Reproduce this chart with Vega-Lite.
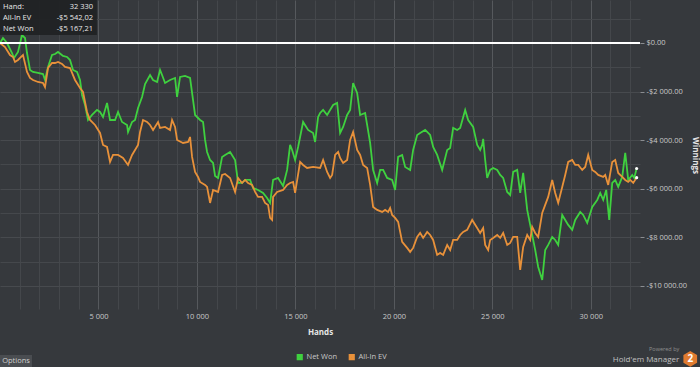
{
  "$schema": "https://vega.github.io/schema/vega-lite/v6.json",
  "width": 640,
  "height": 309,
  "autosize": {"type": "none"},
  "padding": {"left": 0, "top": 0, "right": 60, "bottom": 58},
  "background": "#36393d",
  "config": {"view": {"stroke": null}, "font": "Open Sans"},
  "resolve": {"axis": {"x": "independent", "y": "independent"}},
  "datasets": {
    "net": [
      {"h":1,"v":0},{"h":152,"v":206},{"h":356,"v":0},{"h":406,"v":-82},{"h":610,"v":-412},{"h":711,"v":-617},{"h":914,"v":-370},{"h":1118,"v":329},{"h":1270,"v":206},{"h":1372,"v":-412},{"h":1524,"v":-1111},{"h":1676,"v":-1193},{"h":1930,"v":-1234},{"h":2184,"v":-1276},{"h":2286,"v":-1522},{"h":2438,"v":-988},{"h":2642,"v":-494},{"h":2794,"v":-453},{"h":2946,"v":-370},{"h":3200,"v":-535},{"h":3404,"v":-576},{"h":3556,"v":-700},{"h":3708,"v":-1111},{"h":3912,"v":-1193},{"h":4064,"v":-1522},{"h":4166,"v":-2140},{"h":4318,"v":-2551},{"h":4470,"v":-3169},{"h":4674,"v":-2963},{"h":4928,"v":-2757},{"h":5080,"v":-2839},{"h":5232,"v":-3045},{"h":5436,"v":-2469},{"h":5588,"v":-3169},{"h":5842,"v":-3169},{"h":5994,"v":-2839},{"h":6198,"v":-3251},{"h":6452,"v":-3374},{"h":6502,"v":-3662},{"h":6706,"v":-3251},{"h":6858,"v":-3169},{"h":7010,"v":-2675},{"h":7214,"v":-2222},{"h":7366,"v":-1687},{"h":7620,"v":-1317},{"h":7772,"v":-1522},{"h":7976,"v":-1605},{"h":8128,"v":-1111},{"h":8230,"v":-1317},{"h":8382,"v":-1646},{"h":8636,"v":-1522},{"h":8890,"v":-1440},{"h":8992,"v":-2222},{"h":9144,"v":-1399},{"h":9398,"v":-1358},{"h":9652,"v":-1440},{"h":9754,"v":-2058},{"h":9906,"v":-2963},{"h":10160,"v":-3169},{"h":10312,"v":-3251},{"h":10414,"v":-3992},{"h":10516,"v":-4485},{"h":10668,"v":-4815},{"h":10820,"v":-4938},{"h":10922,"v":-5473},{"h":11074,"v":-5555},{"h":11278,"v":-4691},{"h":11430,"v":-4609},{"h":11684,"v":-4485},{"h":11938,"v":-4815},{"h":12090,"v":-5761},{"h":12294,"v":-5761},{"h":12446,"v":-5638},{"h":12700,"v":-5638},{"h":12852,"v":-5967},{"h":13106,"v":-6049},{"h":13360,"v":-6173},{"h":13564,"v":-6378},{"h":13716,"v":-6584},{"h":13868,"v":-5638},{"h":14122,"v":-5555},{"h":14376,"v":-5884},{"h":14580,"v":-5226},{"h":14732,"v":-4197},{"h":14834,"v":-4403},{"h":14986,"v":-4815},{"h":15138,"v":-4280},{"h":15392,"v":-3251},{"h":15646,"v":-3580},{"h":15900,"v":-3704},{"h":16002,"v":-4074},{"h":16154,"v":-3045},{"h":16256,"v":-2881},{"h":16408,"v":-2757},{"h":16612,"v":-2963},{"h":16916,"v":-2551},{"h":17120,"v":-2469},{"h":17272,"v":-3704},{"h":17424,"v":-3457},{"h":17628,"v":-2963},{"h":17780,"v":-2757},{"h":17932,"v":-1646},{"h":18136,"v":-2058},{"h":18288,"v":-2963},{"h":18542,"v":-2881},{"h":18644,"v":-3374},{"h":18796,"v":-4115},{"h":18948,"v":-5226},{"h":19152,"v":-5761},{"h":19304,"v":-5226},{"h":19456,"v":-5226},{"h":19660,"v":-5555},{"h":19914,"v":-5638},{"h":20066,"v":-6049},{"h":20218,"v":-4691},{"h":20422,"v":-4609},{"h":20574,"v":-5103},{"h":20828,"v":-5226},{"h":20980,"v":-4403},{"h":21184,"v":-3786},{"h":21336,"v":-3704},{"h":21590,"v":-3580},{"h":21844,"v":-3786},{"h":21996,"v":-4280},{"h":22200,"v":-4609},{"h":22454,"v":-5226},{"h":22708,"v":-4403},{"h":22860,"v":-4321},{"h":23012,"v":-3498},{"h":23216,"v":-3580},{"h":23368,"v":-3498},{"h":23622,"v":-2757},{"h":23774,"v":-3169},{"h":24028,"v":-3457},{"h":24232,"v":-4197},{"h":24384,"v":-4403},{"h":24486,"v":-4197},{"h":24536,"v":-3950},{"h":24638,"v":-4815},{"h":24740,"v":-5555},{"h":24892,"v":-5226},{"h":25044,"v":-5144},{"h":25248,"v":-5226},{"h":25400,"v":-5432},{"h":25552,"v":-5555},{"h":25756,"v":-6131},{"h":25908,"v":-6255},{"h":26060,"v":-5308},{"h":26264,"v":-5226},{"h":26416,"v":-6173},{"h":26568,"v":-5350},{"h":26772,"v":-6872},{"h":26924,"v":-7489},{"h":27026,"v":-7901},{"h":27178,"v":-8518},{"h":27330,"v":-9218},{"h":27534,"v":-9753},{"h":27686,"v":-8518},{"h":27838,"v":-8312},{"h":28042,"v":-7983},{"h":28194,"v":-8107},{"h":28346,"v":-8312},{"h":28550,"v":-7078},{"h":28702,"v":-7284},{"h":28854,"v":-7489},{"h":29058,"v":-7695},{"h":29210,"v":-7284},{"h":29464,"v":-6954},{"h":29616,"v":-7078},{"h":29820,"v":-7407},{"h":30074,"v":-6749},{"h":30328,"v":-6461},{"h":30480,"v":-6173},{"h":30632,"v":-6461},{"h":30785,"v":-6049},{"h":30937,"v":-7284},{"h":31090,"v":-5761},{"h":31242,"v":-5638},{"h":31394,"v":-5926},{"h":31598,"v":-5514},{"h":31750,"v":-4526},{"h":31902,"v":-5638},{"h":32106,"v":-5432},{"h":32207,"v":-5555},{"h":32330,"v":-5167}
    ],
    "ev": [
      {"h":1,"v":0},{"h":254,"v":-165},{"h":508,"v":-494},{"h":660,"v":-576},{"h":762,"v":-782},{"h":914,"v":-700},{"h":1016,"v":-617},{"h":1168,"v":-494},{"h":1372,"v":-1193},{"h":1524,"v":-1440},{"h":1676,"v":-1522},{"h":1930,"v":-1605},{"h":2184,"v":-1646},{"h":2286,"v":-1811},{"h":2438,"v":-1029},{"h":2642,"v":-823},{"h":2794,"v":-823},{"h":2946,"v":-782},{"h":3150,"v":-864},{"h":3302,"v":-988},{"h":3556,"v":-1029},{"h":3810,"v":-1522},{"h":4064,"v":-1852},{"h":4216,"v":-2016},{"h":4420,"v":-2839},{"h":4572,"v":-3169},{"h":4826,"v":-3374},{"h":5080,"v":-3704},{"h":5232,"v":-4197},{"h":5436,"v":-4280},{"h":5588,"v":-4897},{"h":5740,"v":-4609},{"h":5994,"v":-4609},{"h":6248,"v":-4732},{"h":6502,"v":-5020},{"h":6706,"v":-4609},{"h":6858,"v":-4403},{"h":7010,"v":-4197},{"h":7112,"v":-3662},{"h":7264,"v":-3169},{"h":7468,"v":-3251},{"h":7620,"v":-3374},{"h":7772,"v":-3580},{"h":8026,"v":-3251},{"h":8128,"v":-3498},{"h":8382,"v":-3457},{"h":8636,"v":-3580},{"h":8738,"v":-3169},{"h":8890,"v":-3457},{"h":8992,"v":-3992},{"h":9296,"v":-4115},{"h":9550,"v":-4074},{"h":9652,"v":-3868},{"h":9754,"v":-4691},{"h":9906,"v":-5308},{"h":10058,"v":-5514},{"h":10160,"v":-5720},{"h":10414,"v":-5843},{"h":10516,"v":-5926},{"h":10668,"v":-6584},{"h":10820,"v":-6049},{"h":11074,"v":-6131},{"h":11278,"v":-5432},{"h":11430,"v":-5391},{"h":11684,"v":-5555},{"h":11938,"v":-6131},{"h":12090,"v":-5555},{"h":12294,"v":-5761},{"h":12446,"v":-5638},{"h":12598,"v":-5761},{"h":12802,"v":-5843},{"h":12954,"v":-6131},{"h":13106,"v":-6337},{"h":13310,"v":-6337},{"h":13462,"v":-6584},{"h":13614,"v":-6666},{"h":13716,"v":-7201},{"h":13818,"v":-7284},{"h":13868,"v":-6337},{"h":14072,"v":-6131},{"h":14376,"v":-6049},{"h":14580,"v":-5843},{"h":14732,"v":-5761},{"h":14884,"v":-5720},{"h":14986,"v":-6173},{"h":15240,"v":-4897},{"h":15392,"v":-5020},{"h":15596,"v":-5144},{"h":15900,"v":-5103},{"h":16256,"v":-5144},{"h":16408,"v":-4815},{"h":16612,"v":-5308},{"h":16764,"v":-5555},{"h":16866,"v":-5432},{"h":17018,"v":-4609},{"h":17170,"v":-4485},{"h":17272,"v":-4732},{"h":17424,"v":-4938},{"h":17628,"v":-4815},{"h":17780,"v":-3992},{"h":17932,"v":-3662},{"h":18136,"v":-4403},{"h":18288,"v":-4609},{"h":18440,"v":-5020},{"h":18644,"v":-5144},{"h":18796,"v":-5843},{"h":18948,"v":-6749},{"h":19152,"v":-6872},{"h":19406,"v":-6954},{"h":19558,"v":-6872},{"h":19710,"v":-6954},{"h":19812,"v":-6790},{"h":19914,"v":-7078},{"h":20066,"v":-7201},{"h":20218,"v":-7366},{"h":20422,"v":-8189},{"h":20676,"v":-8436},{"h":20828,"v":-8600},{"h":20980,"v":-8436},{"h":21184,"v":-7983},{"h":21336,"v":-7819},{"h":21488,"v":-8024},{"h":21692,"v":-7777},{"h":21844,"v":-7901},{"h":21996,"v":-8107},{"h":22200,"v":-8724},{"h":22352,"v":-8642},{"h":22504,"v":-8724},{"h":22708,"v":-8312},{"h":22860,"v":-8518},{"h":23012,"v":-8107},{"h":23216,"v":-8107},{"h":23368,"v":-7901},{"h":23520,"v":-7777},{"h":23724,"v":-7695},{"h":23978,"v":-7284},{"h":24232,"v":-7613},{"h":24384,"v":-7819},{"h":24536,"v":-7613},{"h":24638,"v":-8312},{"h":24790,"v":-8518},{"h":24892,"v":-8107},{"h":25044,"v":-8024},{"h":25248,"v":-7901},{"h":25400,"v":-8024},{"h":25552,"v":-7819},{"h":25756,"v":-8312},{"h":25908,"v":-8230},{"h":26060,"v":-7983},{"h":26264,"v":-7983},{"h":26416,"v":-9341},{"h":26568,"v":-8395},{"h":26772,"v":-7901},{"h":26924,"v":-8107},{"h":27026,"v":-7572},{"h":27178,"v":-7819},{"h":27330,"v":-7983},{"h":27534,"v":-6996},{"h":27686,"v":-6666},{"h":27838,"v":-6337},{"h":28042,"v":-5638},{"h":28194,"v":-6173},{"h":28346,"v":-6584},{"h":28550,"v":-5926},{"h":28702,"v":-5432},{"h":28854,"v":-4897},{"h":29058,"v":-4815},{"h":29210,"v":-5020},{"h":29362,"v":-5020},{"h":29566,"v":-5226},{"h":29718,"v":-5103},{"h":29870,"v":-4609},{"h":30074,"v":-5226},{"h":30226,"v":-5308},{"h":30378,"v":-5432},{"h":30632,"v":-5514},{"h":30734,"v":-5432},{"h":30886,"v":-5843},{"h":31090,"v":-4897},{"h":31242,"v":-4815},{"h":31394,"v":-5350},{"h":31598,"v":-5514},{"h":31750,"v":-5638},{"h":31902,"v":-5720},{"h":32004,"v":-5638},{"h":32156,"v":-5761},{"h":32330,"v":-5542}
    ]
  },
  "layer": [
    {
      "data": {"name": "net"},
      "mark": {"type": "line", "strokeWidth": 1.8},
      "encoding": {
        "x": {
          "field": "h", "type": "quantitative",
          "scale": {"domain": [0, 32500], "nice": false, "zero": false},
          "axis": {
            "orient": "bottom",
            "values": [5000, 10000, 15000, 20000, 25000, 30000],
            "title": "Hands", "grid": true, "gridColor": "#56595d",
            "ticks": false, "domain": false, "labelOverlap": false, "labelFlush": false,
            "labelExpr": "replace(format(datum.value, ','), ',', ' ')",
            "labelColor": "#c8c8c8", "labelFontSize": 7.5, "labelPadding": 3,
            "titleColor": "#e6e6e6", "titleFontSize": 8, "titleFontWeight": "bold", "titlePadding": 9
          }
        },
        "y": {
          "field": "v", "type": "quantitative",
          "scale": {"domain": [-10950, 1770], "nice": false, "zero": false},
          "axis": {
            "orient": "right",
            "values": [-10000, -8000, -6000, -4000, -2000, 0],
            "title": "Winnings", "grid": true, "gridColor": "#474a4e",
            "ticks": true, "tickSize": 4, "tickColor": "#8a8d91",
            "domain": false, "labelOverlap": false, "labelFlush": false,
            "labelExpr": "(datum.value < 0 ? '-' : '') + '$' + replace(format(abs(datum.value), ','), ',', ' ') + '.00'",
            "labelColor": "#c8c8c8", "labelFontSize": 7.5, "labelPadding": 2,
            "titleColor": "#e6e6e6", "titleFontSize": 8, "titleFontWeight": "bold",
            "titleX": 54, "titleY": 155, "titleAngle": 90, "titleAlign": "center", "titleBaseline": "middle"
          }
        },
        "color": {
          "datum": "Net Won", "type": "nominal",
          "scale": {"domain": ["Net Won", "All-In EV"], "range": ["#3fd13f", "#e8913a"]},
          "legend": {
            "orient": "none", "legendX": 296, "legendY": 353, "direction": "horizontal",
            "title": null, "symbolType": "square", "symbolSize": 10, "symbolStrokeWidth": 3,
            "labelColor": "#c8c8c8", "labelFontSize": 7.5, "labelOffset": 3, "columnPadding": 6
          }
        }
      }
    },
    {
      "data": {"name": "ev"},
      "mark": {"type": "line", "strokeWidth": 1.8},
      "encoding": {
        "x": {"field": "h", "type": "quantitative",
          "axis": {"orient": "top", "values": [1000,2000,3000,4000,6000,7000,8000,9000,11000,12000,13000,14000,16000,17000,18000,19000,21000,22000,23000,24000,26000,27000,28000,29000,31000,32000],
            "grid": true, "gridColor": "#44474b", "labels": false, "ticks": false, "domain": false, "title": null}},
        "y": {"field": "v", "type": "quantitative",
          "axis": {"orient": "left", "values": [-9000, -7000, -5000, -3000, -1000, 1000],
            "grid": true, "gridColor": "#45484c", "labels": false, "ticks": false, "domain": false, "title": null}},
        "color": {"datum": "All-In EV", "type": "nominal"}
      }
    },
    {
      "data": {"values": [{}]},
      "mark": {"type": "rule", "color": "#ffffff", "strokeWidth": 2},
      "encoding": {"y": {"datum": 0, "axis": null}}
    },
    {
      "data": {"name": "net"},
      "transform": [{"filter": "datum.h == 32330"}],
      "mark": {"type": "point", "filled": true, "color": "#ffffff", "size": 10, "opacity": 1},
      "encoding": {"x": {"field": "h", "type": "quantitative", "axis": null}, "y": {"field": "v", "type": "quantitative", "axis": null}}
    },
    {
      "data": {"name": "ev"},
      "transform": [{"filter": "datum.h == 32330"}],
      "mark": {"type": "point", "filled": true, "color": "#ffffff", "size": 10, "opacity": 1},
      "encoding": {"x": {"field": "h", "type": "quantitative", "axis": null}, "y": {"field": "v", "type": "quantitative", "axis": null}}
    },
    {
      "data": {"values": [{}]},
      "mark": {"type": "rect", "color": "#1f2124", "opacity": 0.93},
      "encoding": {"x": {"datum": 0, "axis": null}, "x2": {"datum": 4920}, "y": {"datum": 1770, "axis": null}, "y2": {"datum": 330}}
    },
    {
      "data": {"values": [{}]},
      "mark": {"type": "text", "text": "Hand:", "align": "left", "baseline": "middle", "fontSize": 7.5, "color": "#e8e8e8"},
      "encoding": {"x": {"datum": 152, "axis": null}, "y": {"datum": 1481, "axis": null}}
    },
    {
      "data": {"values": [{}]},
      "mark": {"type": "text", "text": "All-In EV", "align": "left", "baseline": "middle", "fontSize": 7.5, "color": "#e8e8e8"},
      "encoding": {"x": {"datum": 152, "axis": null}, "y": {"datum": 1029, "axis": null}}
    },
    {
      "data": {"values": [{}]},
      "mark": {"type": "text", "text": "Net Won", "align": "left", "baseline": "middle", "fontSize": 7.5, "color": "#e8e8e8"},
      "encoding": {"x": {"datum": 152, "axis": null}, "y": {"datum": 576, "axis": null}}
    },
    {
      "data": {"values": [{}]},
      "mark": {"type": "text", "text": "32 330", "align": "right", "baseline": "middle", "fontSize": 7.5, "color": "#e8e8e8"},
      "encoding": {"x": {"datum": 4724, "axis": null}, "y": {"datum": 1481, "axis": null}}
    },
    {
      "data": {"values": [{}]},
      "mark": {"type": "text", "text": "-$5 542,02", "align": "right", "baseline": "middle", "fontSize": 7.5, "color": "#e8e8e8"},
      "encoding": {"x": {"datum": 4724, "axis": null}, "y": {"datum": 1029, "axis": null}}
    },
    {
      "data": {"values": [{}]},
      "mark": {"type": "text", "text": "-$5 167,21", "align": "right", "baseline": "middle", "fontSize": 7.5, "color": "#e8e8e8"},
      "encoding": {"x": {"datum": 4724, "axis": null}, "y": {"datum": 576, "axis": null}}
    },
    {
      "data": {"values": [{}]},
      "mark": {"type": "rect", "color": "#4a4d51"},
      "encoding": {"x": {"datum": 0, "axis": null}, "x2": {"datum": 1626}, "y": {"datum": -12839, "axis": null}, "y2": {"datum": -13400}}
    },
    {
      "data": {"values": [{}]},
      "mark": {"type": "text", "text": "Options", "align": "center", "baseline": "middle", "fontSize": 7.5, "color": "#d0d0d0"},
      "encoding": {"x": {"datum": 813, "axis": null}, "y": {"datum": -13086, "axis": null}}
    },
    {
      "data": {"values": [{}]},
      "mark": {"type": "text", "text": "Powered by", "align": "right", "baseline": "middle", "fontSize": 5.5, "color": "#8e8e8e"},
      "encoding": {"x": {"datum": 34493, "axis": null}, "y": {"datum": -12590, "axis": null}}
    },
    {
      "data": {"values": [{}]},
      "mark": {"type": "text", "text": "Hold'em Manager", "align": "right", "baseline": "middle", "fontSize": 8, "color": "#c0c0c0"},
      "encoding": {"x": {"datum": 34493, "axis": null}, "y": {"datum": -13060, "axis": null}}
    },
    {
      "data": {"values": [{}]},
      "mark": {"type": "point", "shape": "M0,-1L0.866,-0.5L0.866,0.5L0,1L-0.866,0.5L-0.866,-0.5Z", "filled": true, "color": "#e07b30", "opacity": 1, "size": 250},
      "encoding": {"x": {"datum": 35052, "axis": null}, "y": {"datum": -13003, "axis": null}}
    },
    {
      "data": {"values": [{}]},
      "mark": {"type": "text", "text": "2", "align": "center", "baseline": "middle", "fontSize": 10, "fontWeight": "bold", "color": "#ffffff"},
      "encoding": {"x": {"datum": 35052, "axis": null}, "y": {"datum": -13003, "axis": null}}
    }
  ]
}
